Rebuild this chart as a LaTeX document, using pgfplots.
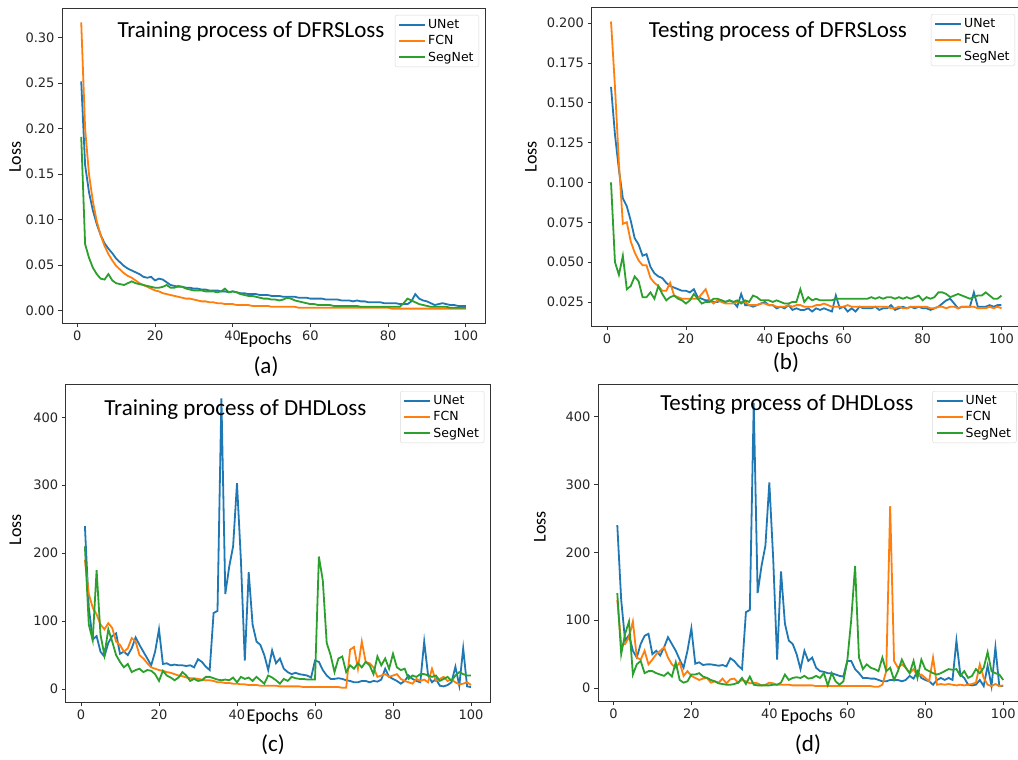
\documentclass[border=0pt]{standalone}
\usepackage{fontspec}
\setmainfont{DejaVu Sans}
\newfontfamily\carlito{Carlito}
\usepackage{pgfplots}
\usepackage{pgfplotstable}
\pgfplotsset{compat=1.18}
\definecolor{cU}{HTML}{1F77B4}
\definecolor{cF}{HTML}{FF7F0E}
\definecolor{cS}{HTML}{2CA02C}

\pgfplotstableread{
e u f s
1 .252 .317 .191
2 .160 .200 .073
3 .130 .150 .058
4 .110 .120 .047
5 .095 .098 .040
6 .083 .083 .035
7 .074 .071 .034
8 .068 .062 .040
9 .063 .055 .033
10 .057 .049 .030
11 .053 .045 .029
12 .049 .041 .028
13 .046 .038 .030
14 .044 .036 .032
15 .042 .033 .030
16 .040 .030 .029
17 .037 .028 .028
18 .036 .026 .027
19 .037 .024 .026
20 .033 .022 .025
21 .035 .021 .025
22 .034 .019 .026
23 .031 .018 .028
24 .028 .017 .025
25 .027 .016 .025
26 .026 .015 .027
27 .026 .014 .026
28 .025 .013 .024
29 .025 .013 .023
30 .024 .012 .022
31 .024 .011 .022
32 .023 .010 .022
33 .023 .010 .021
34 .022 .009 .021
35 .022 .009 .021
36 .022 .008 .020
37 .021 .008 .021
38 .021 .007 .024
39 .020 .007 .020
40 .021 .007 .021
41 .020 .006 .020
42 .019 .006 .018
43 .019 .006 .017
44 .018 .006 .016
45 .018 .005 .016
46 .018 .005 .015
47 .017 .005 .014
48 .017 .005 .013
49 .017 .005 .013
50 .016 .004 .012
51 .016 .004 .012
52 .016 .004 .011
53 .015 .004 .012
54 .015 .004 .014
55 .015 .004 .013
56 .015 .004 .011
57 .014 .003 .010
58 .014 .003 .009
59 .014 .003 .008
60 .013 .003 .007
61 .013 .003 .007
62 .013 .003 .006
63 .013 .003 .006
64 .012 .003 .006
65 .012 .003 .006
66 .012 .003 .005
67 .012 .003 .005
68 .011 .003 .005
69 .011 .003 .005
70 .011 .003 .005
71 .010 .003 .005
72 .011 .003 .005
73 .010 .003 .004
74 .010 .003 .004
75 .009 .003 .004
76 .009 .003 .004
77 .009 .003 .004
78 .009 .003 .004
79 .008 .003 .004
80 .008 .003 .004
81 .008 .002 .004
82 .008 .002 .004
83 .007 .002 .004
84 .007 .002 .008
85 .007 .002 .013
86 .010 .002 .011
87 .018 .002 .009
88 .013 .002 .007
89 .011 .002 .006
90 .010 .002 .005
91 .008 .002 .004
92 .006 .002 .004
93 .007 .002 .004
94 .008 .002 .004
95 .007 .002 .004
96 .006 .002 .003
97 .006 .002 .003
98 .005 .002 .003
99 .005 .002 .003
100 .005 .002 .003
}\tA

\pgfplotstableread{
e u f s
1 .160 .201 .100
2 .130 .160 .050
3 .108 .112 .042
4 .090 .074 .054
5 .085 .075 .033
6 .076 .063 .035
7 .065 .056 .041
8 .061 .051 .038
9 .054 .048 .028
10 .055 .048 .028
11 .047 .040 .031
12 .043 .037 .027
13 .041 .035 .035
14 .040 .032 .030
15 .037 .032 .026
16 .035 .037 .028
17 .034 .029 .029
18 .033 .028 .027
19 .032 .027 .026
20 .032 .027 .024
21 .031 .027 .026
22 .033 .027 .030
23 .028 .027 .027
24 .027 .030 .024
25 .026 .033 .025
26 .026 .026 .025
27 .025 .024 .027
28 .025 .026 .027
29 .026 .025 .026
30 .025 .024 .025
31 .026 .024 .026
32 .025 .024 .025
33 .022 .025 .026
34 .030 .025 .024
35 .023 .025 .026
36 .023 .023 .025
37 .022 .023 .029
38 .023 .023 .028
39 .024 .024 .026
40 .025 .024 .026
41 .023 .023 .026
42 .023 .023 .025
43 .021 .022 .026
44 .022 .022 .025
45 .021 .022 .024
46 .023 .023 .024
47 .020 .022 .025
48 .021 .023 .025
49 .020 .023 .033
50 .020 .022 .025
51 .021 .022 .028
52 .019 .022 .026
53 .021 .023 .027
54 .020 .023 .026
55 .021 .024 .026
56 .020 .023 .026
57 .019 .022 .026
58 .029 .022 .027
59 .021 .022 .027
60 .022 .022 .027
61 .019 .023 .027
62 .021 .022 .027
63 .019 .022 .027
64 .022 .022 .027
65 .021 .022 .027
66 .021 .022 .027
67 .021 .022 .028
68 .022 .022 .027
69 .020 .022 .028
70 .021 .022 .027
71 .021 .022 .028
72 .023 .021 .028
73 .020 .021 .027
74 .021 .022 .028
75 .022 .021 .027
76 .021 .021 .028
77 .022 .022 .027
78 .021 .022 .028
79 .022 .022 .029
80 .021 .022 .026
81 .021 .022 .028
82 .020 .021 .027
83 .021 .021 .028
84 .022 .022 .031
85 .024 .022 .031
86 .026 .021 .030
87 .027 .022 .028
88 .024 .022 .029
89 .021 .021 .030
90 .022 .022 .029
91 .022 .022 .028
92 .022 .022 .027
93 .031 .022 .028
94 .022 .021 .029
95 .022 .021 .029
96 .022 .021 .031
97 .023 .022 .029
98 .022 .021 .027
99 .023 .022 .027
100 .023 .021 .029
}\tB

\pgfplotstableread{
e u f s
1 240 190 210
2 120 140 95
3 73 120 72
4 78 110 175
5 55 95 80
6 48 88 50
7 68 97 88
8 78 90 70
9 82 70 50
10 52 65 40
11 55 55 32
12 50 60 37
13 60 75 25
14 76 70 28
15 65 50 30
16 55 45 25
17 45 38 28
18 35 32 27
19 55 30 22
20 88 28 12
21 37 27 27
22 38 25 20
23 35 24 17
24 36 22 13
25 35 20 17
26 35 19 25
27 34 17 20
28 35 16 12
29 32 16 15
30 44 15 12
31 40 14 13
32 33 13 18
33 28 13 18
34 112 12 16
35 115 10 14
36 428 10 13
37 140 9 14
38 180 9 13
39 210 8 17
40 303 8 10
41 190 7 18
42 42 7 15
43 172 6 17
44 95 6 12
45 70 6 18
46 65 5 13
47 50 5 8
48 28 5 20
49 57 5 17
50 38 5 13
51 45 4 8
52 30 4 15
53 25 4 12
54 22 4 18
55 24 4 16
56 22 4 15
57 21 3 15
58 20 3 14
59 17 3 14
60 42 3 14
61 40 3 195
62 28 3 160
63 20 3 68
64 15 3 50
65 15 3 25
66 16 3 45
67 15 2 48
68 13 2 25
69 12 58 35
70 10 62 30
71 10 30 38
72 12 70 32
73 12 40 40
74 10 38 35
75 12 32 22
76 11 18 48
77 14 20 35
78 30 22 45
79 18 18 30
80 15 20 52
81 12 22 32
82 8 15 28
83 12 12 30
84 20 10 15
85 15 8 20
86 12 15 18
87 10 12 22
88 70 14 22
89 20 10 20
90 10 30 18
91 15 12 20
92 5 15 12
93 4 18 15
94 6 12 18
95 10 14 12
96 33 10 20
97 5 7 25
98 60 8 22
99 4 10 20
100 3 6 20
}\tC

\pgfplotstableread{
e u f s
1 240 130 140
2 130 65 50
3 70 65 80
4 78 75 98
5 55 98 20
6 45 45 35
7 65 42 40
8 77 55 22
9 80 35 25
10 50 42 25
11 55 50 22
12 48 55 20
13 60 60 18
14 75 45 23
15 65 35 17
16 55 30 38
17 42 38 12
18 30 18 8
19 55 25 10
20 88 18 20
21 36 15 20
22 38 12 22
23 34 14 17
24 35 15 15
25 35 8 12
26 34 10 10
27 33 8 7
28 34 14 6
29 32 7 5
30 44 13 5
31 40 14 6
32 33 8 8
33 28 12 15
34 112 10 6
35 115 7 17
36 420 8 5
37 140 7 4
38 180 4 4
39 210 5 4
40 303 8 4
41 190 7 5
42 42 5 5
43 172 5 8
44 95 5 20
45 70 5 12
46 65 4 15
47 50 4 16
48 28 4 15
49 55 4 18
50 40 4 14
51 45 4 15
52 30 3 18
53 25 3 15
54 24 3 22
55 22 3 4
56 22 3 22
57 20 3 10
58 18 3 5
59 17 3 10
60 40 3 40
61 40 3 100
62 28 3 180
63 22 3 45
64 15 3 28
65 15 3 35
66 14 3 30
67 14 2 28
68 12 2 25
69 10 5 45
70 10 25 25
71 12 268 30
72 12 40 12
73 12 30 25
74 10 35 42
75 12 30 30
76 18 22 22
77 14 28 40
78 25 18 15
79 15 20 42
80 12 15 28
81 10 10 25
82 5 45 22
83 12 5 20
84 15 6 22
85 12 5 25
86 15 6 28
87 12 5 27
88 70 4 28
89 20 5 18
90 15 4 25
91 5 5 15
92 4 6 18
93 5 8 28
94 12 35 22
95 3 15 30
96 33 5 53
97 3 3 25
98 60 6 22
99 3 3 20
100 3 4 12
}\tD

\pgfplotsset{
  panel/.style={
    scale only axis, anchor=south west,
    xmin=-3.95, xmax=104.95, xtick={0,20,...,100},
    axis line style={black!80, line width=0.8pt},
    tick style={black!80, line width=0.8pt},
    tick align=outside, major tick length=4pt,
    xtick pos=bottom, ytick pos=left,
    tick label style={font=\fontsize{13}{15}\selectfont, text=black!85},
    /pgf/number format/assume math mode=true,
    title style={font=\carlito\fontsize{23}{26}\selectfont, anchor=center, yshift=-8pt},
    xlabel style={font=\carlito\fontsize{18}{20}\selectfont, anchor=center},
    ylabel style={font=\carlito\fontsize{18}{20}\selectfont, anchor=center},
    legend cell align=left,
    legend image code/.code={\draw[##1, line width=1.8pt] (0pt,0pt) -- (26pt,0pt);},
    legend style={at={(1,1)}, anchor=north east, xshift=-6pt, yshift=-7pt,
      draw=black!15, rounded corners=2pt, fill=white,
      font=\fontsize{12.5}{14}\selectfont, inner xsep=3pt, inner ysep=1.5pt,
      nodes={inner xsep=2.2pt, inner ysep=2.75pt}},
    every axis plot/.append style={line width=1.8pt, no markers},
  }
}

\begin{document}
\begin{tikzpicture}
\path[use as bounding box, fill=white] (0,0) rectangle (1018pt,-760pt);

% (a)
\begin{axis}[panel, at={(62pt,-323pt)}, width=423pt, height=315pt,
  ymin=-0.0138, ymax=0.3328, ytick={0,0.05,...,0.3},
  yticklabel style={/pgf/number format/.cd, fixed, fixed zerofill, precision=2},
  title={Training process of DFRSLoss}, title style={at={(axis description cs:0.447,0.930)}},
  xlabel={Epochs}, xlabel style={at={(axis description cs:0.482,-0.054)}},
  ylabel={Loss}, ylabel style={at={(axis description cs:-0.111,0.527)}}]
\addplot[cU] table[x=e,y=u] {\tA};
\addplot[cF] table[x=e,y=f] {\tA};
\addplot[cS] table[x=e,y=s] {\tA};
\legend{UNet,FCN,SegNet}
\end{axis}

% (b)
\begin{axis}[panel, at={(591.5pt,-326pt)}, width=429.5pt, height=319pt,
  ymin=0.0099, ymax=0.2101, ytick={0.025,0.05,...,0.2},
  yticklabel style={/pgf/number format/.cd, fixed, fixed zerofill, precision=3},
  title={Testing process of DFRSLoss}, title style={at={(axis description cs:0.434,0.928)}},
  xlabel={Epochs}, xlabel style={at={(axis description cs:0.492,-0.044)}},
  ylabel={Loss}, ylabel style={at={(axis description cs:-0.141,0.53)}}]
\addplot[cU] table[x=e,y=u] {\tB};
\addplot[cF] table[x=e,y=f] {\tB};
\addplot[cS] table[x=e,y=s] {\tB};
\legend{UNet,FCN,SegNet}
\end{axis}

% (c)
\begin{axis}[panel, at={(65.6pt,-702pt)}, width=424.7pt, height=318pt,
  ymin=-19, ymax=449, ytick={0,100,...,400},
  title={Training process of DHDLoss}, title style={at={(axis description cs:0.4,0.925)}},
  xlabel={Epochs}, xlabel style={at={(axis description cs:0.487,-0.047)}},
  ylabel={Loss}, ylabel style={at={(axis description cs:-0.118,0.541)}}]
\addplot[cU] table[x=e,y=u] {\tC};
\addplot[cF] table[x=e,y=f] {\tC};
\addplot[cS] table[x=e,y=s] {\tC};
\legend{UNet,FCN,SegNet}
\end{axis}

% (d)
\begin{axis}[panel, at={(598pt,-701pt)}, width=424.5pt, height=317pt,
  ymin=-19, ymax=448, ytick={0,100,...,400},
  title={Testing process of DHDLoss}, title style={at={(axis description cs:0.445,0.94)}},
  xlabel={Epochs}, xlabel style={at={(axis description cs:0.492,-0.05)}},
  ylabel={Loss}, ylabel style={at={(axis description cs:-0.137,0.549)}}]
\addplot[cU] table[x=e,y=u] {\tD};
\addplot[cF] table[x=e,y=f] {\tD};
\addplot[cS] table[x=e,y=s] {\tD};
\legend{UNet,FCN,SegNet}
\end{axis}

\node[font=\carlito\fontsize{23}{26}\selectfont] at (266pt,-367pt) {(a)};
\node[font=\carlito\fontsize{23}{26}\selectfont] at (786pt,-363pt) {(b)};
\node[font=\carlito\fontsize{23}{26}\selectfont] at (273pt,-745pt) {(c)};
\node[font=\carlito\fontsize{23}{26}\selectfont] at (808pt,-745pt) {(d)};
\end{tikzpicture}
\end{document}
